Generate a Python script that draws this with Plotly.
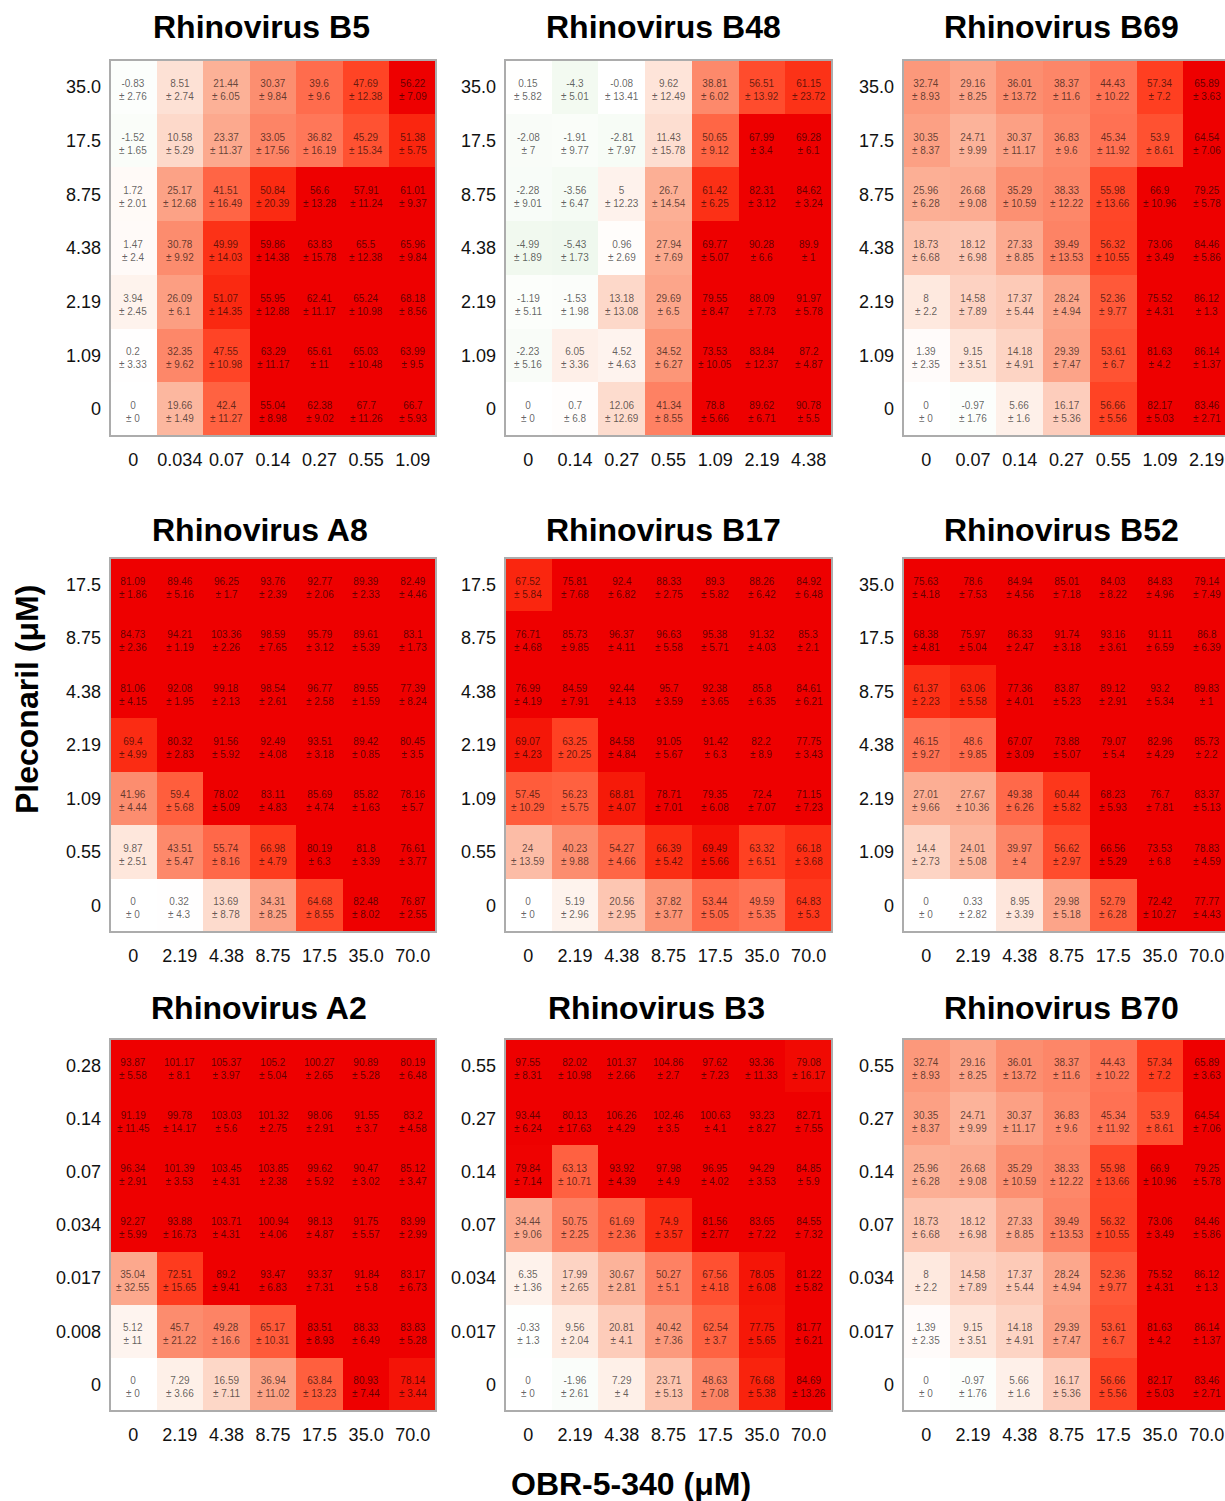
import plotly.graph_objects as go

FONT = "Liberation Sans, Arial, Helvetica, sans-serif"
W, H = 1225, 1501

# ---------------- tick labels (concentrations, µM) ----------------
OBR_B5 = ["0", "0.034", "0.07", "0.14", "0.27", "0.55", "1.09"]
OBR_B48 = ["0", "0.14", "0.27", "0.55", "1.09", "2.19", "4.38"]
OBR_B69 = ["0", "0.07", "0.14", "0.27", "0.55", "1.09", "2.19"]
OBR_HIGH = ["0", "2.19", "4.38", "8.75", "17.5", "35.0", "70.0"]

PLE_35 = ["0", "1.09", "2.19", "4.38", "8.75", "17.5", "35.0"]
PLE_17 = ["0", "0.55", "1.09", "2.19", "4.38", "8.75", "17.5"]
PLE_A2 = ["0", "0.008", "0.017", "0.034", "0.07", "0.14", "0.28"]
PLE_055 = ["0", "0.017", "0.034", "0.07", "0.14", "0.27", "0.55"]

# ---------------- % inhibition, rows listed from highest pleconaril to 0 ----------------
B5_mean = [
    [-0.83, 8.51, 21.44, 30.37, 39.6, 47.69, 56.22],
    [-1.52, 10.58, 23.37, 33.05, 36.82, 45.29, 51.38],
    [1.72, 25.17, 41.51, 50.84, 56.6, 57.91, 61.01],
    [1.47, 30.78, 49.99, 59.86, 63.83, 65.5, 65.96],
    [3.94, 26.09, 51.07, 55.95, 62.41, 65.24, 68.18],
    [0.2, 32.35, 47.55, 63.29, 65.61, 65.03, 63.99],
    [0, 19.66, 42.4, 55.04, 62.38, 67.7, 66.7],
]
B5_sd = [
    [2.76, 2.74, 6.05, 9.84, 9.6, 12.38, 7.09],
    [1.65, 5.29, 11.37, 17.56, 16.19, 15.34, 5.75],
    [2.01, 12.68, 16.49, 20.39, 13.28, 11.24, 9.37],
    [2.4, 9.92, 14.03, 14.38, 15.78, 12.38, 9.84],
    [2.45, 6.1, 14.35, 12.88, 11.17, 10.98, 8.56],
    [3.33, 9.62, 10.98, 11.17, 11, 10.48, 9.5],
    [0, 1.49, 11.27, 8.98, 9.02, 11.26, 5.93],
]

B48_mean = [
    [0.15, -4.3, -0.08, 9.62, 38.81, 56.51, 61.15],
    [-2.08, -1.91, -2.81, 11.43, 50.65, 67.99, 69.28],
    [-2.28, -3.56, 5, 26.7, 61.42, 82.31, 84.62],
    [-4.99, -5.43, 0.96, 27.94, 69.77, 90.28, 89.9],
    [-1.19, -1.53, 13.18, 29.69, 79.55, 88.09, 91.97],
    [-2.23, 6.05, 4.52, 34.52, 73.53, 83.84, 87.2],
    [0, 0.7, 12.06, 41.34, 78.8, 89.62, 90.78],
]
B48_sd = [
    [5.82, 5.01, 13.41, 12.49, 6.02, 13.92, 23.72],
    [7, 9.77, 7.97, 15.78, 9.12, 3.4, 6.1],
    [9.01, 6.47, 12.23, 14.54, 6.25, 3.12, 3.24],
    [1.89, 1.73, 2.69, 7.69, 5.07, 6.6, 1],
    [5.11, 1.98, 13.08, 6.5, 8.47, 7.73, 5.78],
    [5.16, 3.36, 4.63, 6.27, 10.05, 12.37, 4.87],
    [0, 6.8, 12.69, 8.55, 5.66, 6.71, 5.5],
]

B69_mean = [
    [32.74, 29.16, 36.01, 38.37, 44.43, 57.34, 65.89],
    [30.35, 24.71, 30.37, 36.83, 45.34, 53.9, 64.54],
    [25.96, 26.68, 35.29, 38.33, 55.98, 66.9, 79.25],
    [18.73, 18.12, 27.33, 39.49, 56.32, 73.06, 84.46],
    [8, 14.58, 17.37, 28.24, 52.36, 75.52, 86.12],
    [1.39, 9.15, 14.18, 29.39, 53.61, 81.63, 86.14],
    [0, -0.97, 5.66, 16.17, 56.66, 82.17, 83.46],
]
B69_sd = [
    [8.93, 8.25, 13.72, 11.6, 10.22, 7.2, 3.63],
    [8.37, 9.99, 11.17, 9.6, 11.92, 8.61, 7.06],
    [6.28, 9.08, 10.59, 12.22, 13.66, 10.96, 5.78],
    [6.68, 6.98, 8.85, 13.53, 10.55, 3.49, 5.86],
    [2.2, 7.89, 5.44, 4.94, 9.77, 4.31, 1.3],
    [2.35, 3.51, 4.91, 7.47, 6.7, 4.2, 1.37],
    [0, 1.76, 1.6, 5.36, 5.56, 5.03, 2.71],
]

A8_mean = [
    [81.09, 89.46, 96.25, 93.76, 92.77, 89.39, 82.49],
    [84.73, 94.21, 103.36, 98.59, 95.79, 89.61, 83.1],
    [81.06, 92.08, 99.18, 98.54, 96.77, 89.55, 77.39],
    [69.4, 80.32, 91.56, 92.49, 93.51, 89.42, 80.45],
    [41.96, 59.4, 78.02, 83.11, 85.69, 85.82, 78.16],
    [9.87, 43.51, 55.74, 66.98, 80.19, 81.8, 76.61],
    [0, 0.32, 13.69, 34.31, 64.68, 82.48, 76.87],
]
A8_sd = [
    [1.86, 5.16, 1.7, 2.39, 2.06, 2.33, 4.46],
    [2.36, 1.19, 2.26, 7.65, 3.12, 5.39, 1.73],
    [4.15, 1.95, 2.13, 2.61, 2.58, 1.59, 8.24],
    [4.99, 2.83, 5.92, 4.08, 3.18, 0.85, 3.5],
    [4.44, 5.68, 5.09, 4.83, 4.74, 1.63, 5.7],
    [2.51, 5.47, 8.16, 4.79, 6.3, 3.39, 3.77],
    [0, 4.3, 8.78, 8.25, 8.55, 8.02, 2.55],
]

B17_mean = [
    [67.52, 75.81, 92.4, 88.33, 89.3, 88.26, 84.92],
    [76.71, 85.73, 96.37, 96.63, 95.38, 91.32, 85.3],
    [76.99, 84.59, 92.44, 95.7, 92.38, 85.8, 84.61],
    [69.07, 63.25, 84.58, 91.05, 91.42, 82.2, 77.75],
    [57.45, 56.23, 68.81, 78.71, 79.35, 72.4, 71.15],
    [24, 40.23, 54.27, 66.39, 69.49, 63.32, 66.18],
    [0, 5.19, 20.56, 37.82, 53.44, 49.59, 64.83],
]
B17_sd = [
    [5.84, 7.68, 6.82, 2.75, 5.82, 6.42, 6.48],
    [4.68, 9.85, 4.11, 5.58, 5.71, 4.03, 2.1],
    [4.19, 7.91, 4.13, 3.59, 3.65, 6.35, 6.21],
    [4.23, 20.25, 4.84, 5.67, 6.3, 8.9, 3.43],
    [10.29, 5.75, 4.07, 7.01, 6.08, 7.07, 7.23],
    [13.59, 9.88, 4.66, 5.42, 5.66, 6.51, 3.68],
    [0, 2.96, 2.95, 3.77, 5.05, 5.35, 5.3],
]

B52_mean = [
    [75.63, 78.6, 84.94, 85.01, 84.03, 84.83, 79.14],
    [68.38, 75.97, 86.33, 91.74, 93.16, 91.11, 86.8],
    [61.37, 63.06, 77.36, 83.87, 89.12, 93.2, 89.83],
    [46.15, 48.6, 67.07, 73.88, 79.07, 82.96, 85.73],
    [27.01, 27.67, 49.38, 60.44, 68.23, 76.7, 83.37],
    [14.4, 24.01, 39.97, 56.62, 66.56, 73.53, 78.83],
    [0, 0.33, 8.95, 29.98, 52.79, 72.42, 77.77],
]
B52_sd = [
    [4.18, 7.53, 4.56, 7.18, 8.22, 4.96, 7.49],
    [4.81, 5.04, 2.47, 3.18, 3.61, 6.59, 6.39],
    [2.23, 5.58, 4.01, 5.23, 2.91, 5.34, 1],
    [9.27, 9.85, 3.09, 5.07, 5.4, 4.29, 2.2],
    [9.66, 10.36, 6.26, 5.82, 5.93, 7.81, 5.13],
    [2.73, 5.08, 4, 2.97, 5.29, 6.8, 4.59],
    [0, 2.82, 3.39, 5.18, 6.28, 10.27, 4.43],
]

A2_mean = [
    [93.87, 101.17, 105.37, 105.2, 100.27, 90.89, 80.19],
    [91.19, 99.78, 103.03, 101.32, 98.06, 91.55, 83.2],
    [96.34, 101.39, 103.45, 103.85, 99.62, 90.47, 85.12],
    [92.27, 93.88, 103.71, 100.94, 98.13, 91.75, 83.99],
    [35.04, 72.51, 89.2, 93.47, 93.37, 91.84, 83.17],
    [5.12, 45.7, 49.28, 65.17, 83.51, 88.33, 83.83],
    [0, 7.29, 16.59, 36.94, 63.84, 80.93, 78.14],
]
A2_sd = [
    [5.58, 8.1, 3.97, 5.04, 2.65, 5.28, 6.48],
    [11.45, 14.17, 5.6, 2.75, 2.91, 3.7, 4.58],
    [2.91, 3.53, 4.31, 2.38, 5.92, 3.02, 3.47],
    [5.99, 16.73, 4.31, 4.06, 4.87, 5.57, 2.99],
    [32.55, 15.65, 9.41, 6.83, 7.31, 5.8, 6.73],
    [11, 21.22, 16.6, 10.31, 8.93, 6.49, 5.28],
    [0, 3.66, 7.11, 11.02, 13.23, 7.44, 3.44],
]

B3_mean = [
    [97.55, 82.02, 101.37, 104.86, 97.62, 93.36, 79.08],
    [93.44, 80.13, 106.26, 102.46, 100.63, 93.23, 82.71],
    [79.84, 63.13, 93.92, 97.98, 96.95, 94.29, 84.85],
    [34.44, 50.75, 61.69, 74.9, 81.56, 83.65, 84.55],
    [6.35, 17.99, 30.67, 50.27, 67.56, 78.05, 81.22],
    [-0.33, 9.56, 20.81, 40.42, 62.54, 77.75, 81.77],
    [0, -1.96, 7.29, 23.71, 48.63, 76.68, 84.69],
]
B3_sd = [
    [8.31, 10.98, 2.66, 2.7, 7.23, 11.33, 16.17],
    [6.24, 17.63, 4.29, 3.5, 4.1, 8.27, 7.55],
    [7.14, 10.71, 4.39, 4.9, 4.02, 3.53, 5.9],
    [9.06, 2.25, 2.36, 3.57, 2.77, 7.22, 7.32],
    [1.36, 2.65, 2.81, 5.1, 4.18, 6.08, 5.82],
    [1.3, 2.04, 4.1, 7.36, 3.7, 5.65, 6.21],
    [0, 2.61, 4, 5.13, 7.08, 5.38, 13.26],
]

B70_mean = [
    [32.74, 29.16, 36.01, 38.37, 44.43, 57.34, 65.89],
    [30.35, 24.71, 30.37, 36.83, 45.34, 53.9, 64.54],
    [25.96, 26.68, 35.29, 38.33, 55.98, 66.9, 79.25],
    [18.73, 18.12, 27.33, 39.49, 56.32, 73.06, 84.46],
    [8, 14.58, 17.37, 28.24, 52.36, 75.52, 86.12],
    [1.39, 9.15, 14.18, 29.39, 53.61, 81.63, 86.14],
    [0, -0.97, 5.66, 16.17, 56.66, 82.17, 83.46],
]
B70_sd = [
    [8.93, 8.25, 13.72, 11.6, 10.22, 7.2, 3.63],
    [8.37, 9.99, 11.17, 9.6, 11.92, 8.61, 7.06],
    [6.28, 9.08, 10.59, 12.22, 13.66, 10.96, 5.78],
    [6.68, 6.98, 8.85, 13.53, 10.55, 3.49, 5.86],
    [2.2, 7.89, 5.44, 4.94, 9.77, 4.31, 1.3],
    [2.35, 3.51, 4.91, 7.47, 6.7, 4.2, 1.37],
    [0, 1.76, 1.6, 5.36, 5.56, 5.03, 2.71],
]

TITLES = ["Rhinovirus B5", "Rhinovirus B48", "Rhinovirus B69",
          "Rhinovirus A8", "Rhinovirus B17", "Rhinovirus B52",
          "Rhinovirus A2", "Rhinovirus B3", "Rhinovirus B70"]
MEANS = [B5_mean, B48_mean, B69_mean, A8_mean, B17_mean, B52_mean, A2_mean, B3_mean, B70_mean]
SDS = [B5_sd, B48_sd, B69_sd, A8_sd, B17_sd, B52_sd, A2_sd, B3_sd, B70_sd]
X_LABELS = [OBR_B5, OBR_B48, OBR_B69, OBR_HIGH, OBR_HIGH, OBR_HIGH, OBR_HIGH, OBR_HIGH, OBR_HIGH]
Y_LABELS = [PLE_35, PLE_35, PLE_35, PLE_17, PLE_17, PLE_35, PLE_A2, PLE_055, PLE_055]

# ---------------- styling ----------------
# value at which each panel's colour reaches full red
SATURATION = [54, 66, 64, 74, 71, 66, 80, 80, 64]

# pixel boxes of the panels (left, right) and (top, bottom)
COLS_PX = [(110, 436), (505, 832), (903, 1230)]
ROWS_PX = [(60, 436), (558, 932), (1039, 1411)]
TITLE_X_PX = [261, 664, 1061, 260, 664, 1061, 259, 656, 1061]
TITLE_Y_PX = [27, 530, 1008]

# red side: fraction of saturation -> colour; green side mirrors toward negatives
RED_STOPS = [
    (0.00, (255, 255, 255)),
    (0.10, (254, 238, 230)),
    (0.20, (253, 216, 201)),
    (0.40, (252, 176, 150)),
    (0.55, (252, 144, 114)),
    (0.70, (255, 115, 85)),
    (0.80, (255, 95, 62)),
    (0.90, (255, 62, 32)),
    (0.96, (249, 34, 12)),
    (1.00, (238, 0, 0)),
]
GREEN_STOPS = [
    (0.00, (255, 255, 255)),
    (0.10, (236, 247, 234)),
    (0.40, (180, 222, 176)),
    (1.00, (30, 130, 40)),
]


def build_colorscale():
    scale = []
    for t, c in reversed(GREEN_STOPS):
        scale.append([0.5 - t / 2, "rgb(%d,%d,%d)" % c])
    for t, c in RED_STOPS[1:]:
        scale.append([0.5 + t / 2, "rgb(%d,%d,%d)" % c])
    return scale


COLORSCALE = build_colorscale()
CELL_FONT = dict(family=FONT, size=10, color="rgba(0,0,0,0.62)")


def fmt(v):
    return f"{v:g}"


def px_x(p):
    return p / W


def px_y(p):
    return 1 - p / H


fig = go.Figure()
shapes = []
annotations = []

for i in range(9):
    r, c = divmod(i, 3)
    left, right = COLS_PX[c]
    top, bottom = ROWS_PX[r]
    cell_w = (right - left) / 7.0
    vis_right = min(right, W)
    x_hi = -0.5 + (vis_right - left) / cell_w

    mean_rows = MEANS[i][::-1]
    sd_rows = SDS[i][::-1]

    ax = "" if i == 0 else str(i + 1)
    fig.add_trace(go.Heatmap(
        z=mean_rows,
        x=list(range(7)),
        y=list(range(7)),
        colorscale=COLORSCALE,
        zmin=-SATURATION[i],
        zmax=SATURATION[i],
        showscale=False,
        hoverinfo="skip",
        xaxis="x" + ax,
        yaxis="y" + ax,
    ))

    # mean ± sd label in every cell
    for yi, (mr, sr) in enumerate(zip(mean_rows, sd_rows)):
        for xi, (m, s) in enumerate(zip(mr, sr)):
            annotations.append(dict(
                text=f"{fmt(m)}<br>± {fmt(s)}", x=xi, y=yi,
                xref="x" + ax, yref="y" + ax, showarrow=False,
                xanchor="center", yanchor="middle", yshift=-3,
                font=CELL_FONT))

    common = dict(showgrid=False, zeroline=False, showline=False, ticks="",
                  tickfont=dict(family=FONT, size=18, color="#111"),
                  tickvals=list(range(7)), fixedrange=True)
    fig.layout["xaxis" + ax] = dict(
        domain=[px_x(left), px_x(vis_right)], anchor="y" + ax,
        range=[-0.5, x_hi], ticktext=X_LABELS[i], ticklabelstandoff=11, **common)
    fig.layout["yaxis" + ax] = dict(
        domain=[px_y(bottom), px_y(top)], anchor="x" + ax,
        range=[-0.5, 6.5], ticktext=Y_LABELS[i], ticklabelstandoff=8, **common)

    shapes.append(dict(type="rect", xref="paper", yref="paper",
                       x0=px_x(left), x1=px_x(right), y0=px_y(bottom), y1=px_y(top),
                       line=dict(color="rgb(172,172,172)", width=2), layer="above"))

    annotations.append(dict(text=f"<b>{TITLES[i]}</b>", xref="paper", yref="paper",
                            x=px_x(TITLE_X_PX[i]), y=px_y(TITLE_Y_PX[r]),
                            xanchor="center", yanchor="middle", showarrow=False,
                            font=dict(family=FONT, size=32, color="#000")))

annotations.append(dict(text="<b>Pleconaril (μM)</b>", xref="paper", yref="paper",
                        x=px_x(27), y=px_y(700), textangle=-90,
                        xanchor="center", yanchor="middle", showarrow=False,
                        font=dict(family=FONT, size=32, color="#000")))
annotations.append(dict(text="<b>OBR-5-340 (μM)</b>", xref="paper", yref="paper",
                        x=px_x(631), y=px_y(1484),
                        xanchor="center", yanchor="middle", showarrow=False,
                        font=dict(family=FONT, size=32, color="#000")))

fig.update_layout(
    width=W, height=H,
    margin=dict(l=0, r=0, t=0, b=0),
    paper_bgcolor="white", plot_bgcolor="white",
    shapes=shapes, annotations=annotations,
    showlegend=False,
)

fig.write_html("out.html", include_plotlyjs=True, config={"displayModeBar": False})
